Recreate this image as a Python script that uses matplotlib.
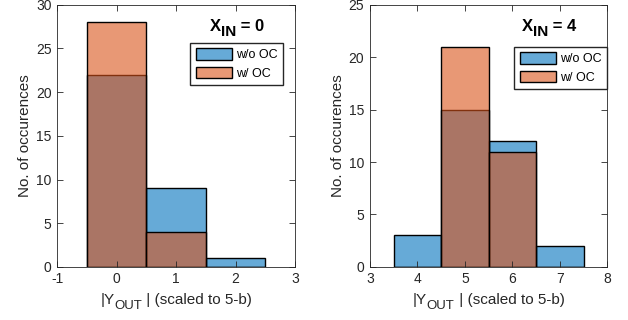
import numpy as np
import matplotlib.pyplot as plt
from matplotlib.patches import Patch
from matplotlib.transforms import offset_copy

plt.rcParams['font.family'] = ['Liberation Sans', 'DejaVu Sans']
plt.rcParams['axes.unicode_minus'] = False

# data
bins_l = [0, 1, 2]
no_oc_l = [22, 9, 1]
oc_l = [28, 4, 0]

bins_r = [4, 5, 6, 7]
no_oc_r = [3, 15, 12, 2]
oc_r = [0, 21, 11, 0]

blue = (0, 0.447, 0.741, 0.6)
orange = (0.85, 0.325, 0.098, 0.6)
txt = '#262626'

fig = plt.figure(figsize=(6.28, 3.2), dpi=100)
ax1 = fig.add_axes([0.091, 0.166, 0.379, 0.819])
ax2 = fig.add_axes([0.589, 0.166, 0.378, 0.819])
rend = fig.canvas.get_renderer()

def chain(ax, x, y, parts, color=txt, **kw):
    # draw a text made of pieces (main text + lowered subscript), centred at x
    ts, dx = [], 0
    for s, size, dy in parts:
        t = ax.text(x, y, s, transform=ax.transAxes, fontsize=size,
                    ha='left', va='baseline', color=color, **kw)
        ts.append((t, dx, dy))
        dx += t.get_window_extent(rend).width
    for t, off, dy in ts:
        t.set_transform(offset_copy(ax.transAxes, fig, x=off - dx / 2, y=dy,
                                    units='dots'))

def panel(ax, bins, a, b, xlim, ylim, yt, val, leg_xy):
    ax.bar(bins, a, width=1, color=blue, edgecolor='black', linewidth=1.0)
    ax.bar(bins, b, width=1, color=orange, edgecolor='black', linewidth=1.0)
    ax.set_xlim(xlim)
    ax.set_ylim(ylim)
    ax.set_yticks(yt)
    ax.set_xticks(np.arange(xlim[0], xlim[1] + 1))
    ax.tick_params(direction='in', top=True, right=True, labelsize=10,
                   colors=txt, length=4, width=0.6, pad=4)
    for s in ax.spines.values():
        s.set_color('#262626')
        s.set_linewidth(0.6)
    ax.set_ylabel('No. of occurences', fontsize=11, color=txt, labelpad=3)
    # x label: |Y_OUT | (scaled to 5-b)
    chain(ax, 0.5, -0.14, [('|Y', 11, 0), ('OUT', 9.5, -5),
                           (' | (scaled to 5-b)', 11, 0)])
    chain(ax, 0.755, 0.9, [('X', 12, 0), ('IN', 11, -5),
                           (' = ' + val, 12, 0)], color='black',
          fontweight='bold')
    h = [Patch(facecolor=blue, edgecolor='black'),
         Patch(facecolor=orange, edgecolor='black')]
    ax.legend(h, ['w/o OC', 'w/ OC'], loc='upper right', bbox_to_anchor=leg_xy,
              fontsize=9, handlelength=2.9, handleheight=1.0, fancybox=False,
              edgecolor='#262626', framealpha=1, borderpad=0.45,
              labelspacing=0.45, handletextpad=0.3, borderaxespad=0)

panel(ax1, bins_l, no_oc_l, oc_l, (-1, 3), (0, 30), range(0, 31, 5),
      '0', (0.95, 0.855))
panel(ax2, bins_r, no_oc_r, oc_r, (3, 8), (0, 25), range(0, 26, 5),
      '4', (1.0, 0.84))

fig.savefig('out.png', dpi=100)
